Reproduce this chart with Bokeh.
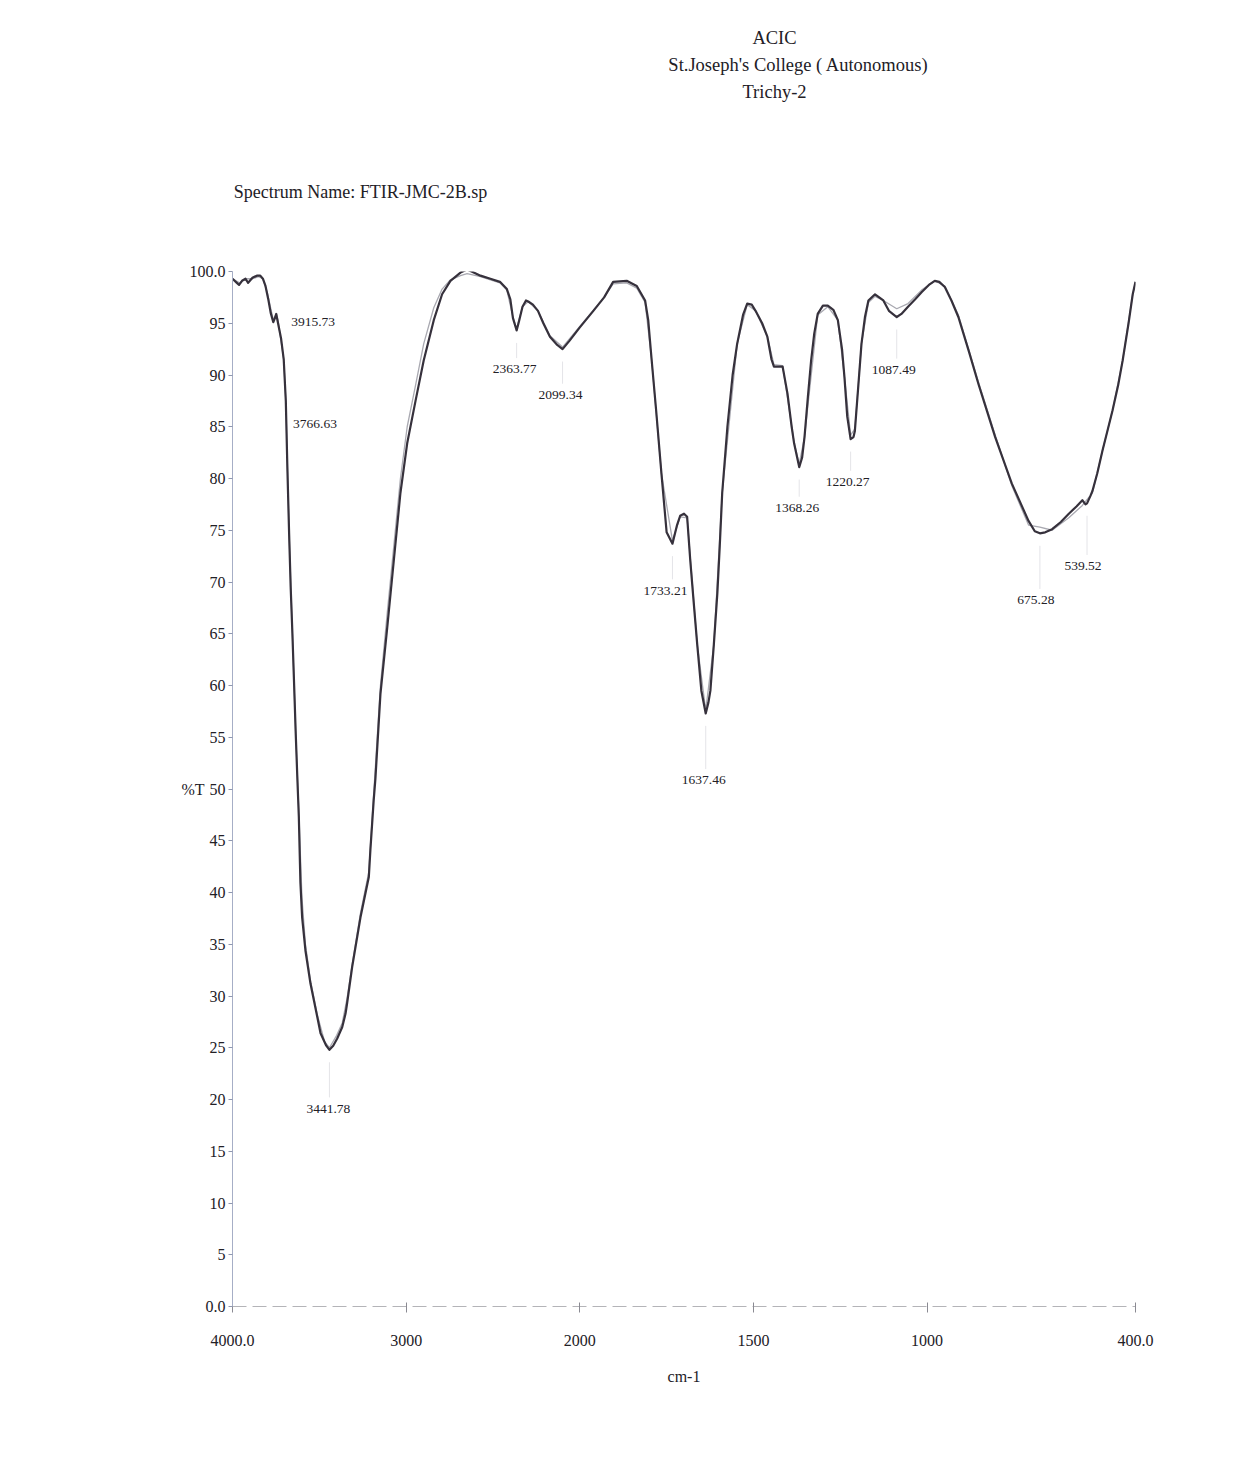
from bokeh.plotting import figure
from bokeh.models import Label, FixedTicker, Range1d, ColumnDataSource
from bokeh.layouts import column
from bokeh.core.properties import value
from bokeh.embed import file_html
from bokeh.resources import INLINE

# ---------------- data ----------------
wavenumber = [
    4000, 3975, 3962, 3945, 3925, 3910, 3900, 3885, 3860, 3840, 3825, 3810, 3795,
    3780, 3765, 3758, 3748, 3740, 3720, 3705, 3693, 3684, 3674, 3665, 3655, 3645,
    3636, 3626, 3618, 3609, 3599, 3580, 3551, 3512, 3493, 3460, 3441.78, 3420,
    3397, 3368, 3349, 3340, 3311, 3263, 3215, 3206, 3187, 3177, 3148, 3109, 3071,
    3033, 2994, 2946, 2899, 2841, 2793, 2745, 2687, 2649, 2572, 2515, 2460, 2420,
    2400, 2385, 2363.77, 2350, 2330, 2310, 2297, 2270, 2241, 2210, 2172, 2130,
    2099.34, 2060, 2000, 1961, 1930, 1904, 1865, 1836, 1812, 1803, 1793, 1780,
    1765, 1750, 1733.21, 1720, 1711, 1700, 1691, 1682, 1672, 1662, 1650, 1637.46,
    1630, 1624, 1614, 1604, 1597, 1590, 1575, 1560, 1547, 1530, 1518, 1505, 1494,
    1475, 1460, 1448, 1441, 1416, 1402, 1390, 1383, 1368.26, 1360, 1353, 1343,
    1334, 1325, 1315, 1300, 1286, 1270, 1257, 1245, 1238, 1230, 1220.27, 1212,
    1208, 1198, 1189, 1179, 1169, 1150, 1126, 1110, 1087.49, 1074, 1055, 1035,
    1016, 995, 978, 965, 949, 930, 910, 880, 852, 804, 756, 708, 690, 675.28,
    660, 640, 615, 592, 570, 553, 544, 539.52, 530, 524, 510, 495, 480, 466,
    450, 437, 420, 408, 400,
]
transmittance = [
    99.3, 98.9, 98.7, 99.1, 99.3, 98.9, 99.1, 99.4, 99.6, 99.6, 99.3, 98.6, 97.4,
    96.0, 95.1, 95.4, 95.9, 95.2, 93.5, 91.5, 87.5, 81.0, 74.7, 69.5, 65.0, 60.0,
    55.4, 50.8, 47.3, 41.0, 37.6, 34.4, 31.2, 28.0, 26.4, 25.2, 24.8, 25.2,
    25.9, 27.0, 28.3, 29.3, 32.8, 37.6, 41.5, 44.1, 48.9, 51.0, 59.2, 65.6, 72.1,
    78.6, 83.4, 87.5, 91.4, 95.3, 97.8, 99.1, 99.9, 100.2, 99.6, 99.3, 99.0, 98.3,
    97.3, 95.5, 94.3, 95.2, 96.6, 97.2, 97.1, 96.8, 96.2, 95.0, 93.7, 92.9,
    92.5, 93.3, 94.6, 96.2, 97.5, 99.0, 99.1, 98.6, 97.2, 95.3, 91.4, 86.5,
    80.5, 74.8, 73.7, 75.5, 76.4, 76.6, 76.3, 72.1, 68.0, 64.0, 59.5, 57.3,
    58.3, 59.5, 64.0, 68.9, 73.5, 78.6, 85.0, 90.0, 93.0, 95.8, 96.9, 96.8, 96.2,
    95.0, 93.7, 91.5, 90.8, 90.8, 88.2, 85.0, 83.4, 81.1, 82.0, 84.0, 88.0,
    91.4, 94.0, 95.9, 96.7, 96.7, 96.3, 95.3, 92.5, 89.8, 86.0, 83.8, 84.0,
    84.6, 89.0, 93.0, 95.6, 97.2, 97.8, 97.2, 96.2, 95.6, 95.9, 96.6, 97.3,
    98.0, 98.7, 99.1, 99.0, 98.5, 97.2, 95.6, 92.3, 89.1, 84.0, 79.5, 75.9, 74.9, 74.7,
    74.8, 75.1, 75.8, 76.6, 77.3, 77.9, 77.5, 77.6, 78.3, 78.8, 80.5, 82.7, 84.7, 86.6,
    89.0, 91.4, 95.0, 97.8, 99.0,
]

# faint second (overlaid) trace
ref_wavenumber = [
    4000, 3960, 3925, 3885, 3850, 3825, 3800, 3765, 3748, 3738, 3705, 3693, 3674,
    3655, 3636, 3618, 3600, 3580, 3551, 3512, 3470, 3441.78, 3400, 3368, 3340,
    3311, 3263, 3215, 3187, 3148, 3109, 3071, 3033, 2994, 2946, 2899, 2841, 2793,
    2745, 2687, 2649, 2572, 2515, 2460, 2420, 2385, 2363.77, 2330, 2297, 2241,
    2172, 2099.34, 2000, 1930, 1904, 1865, 1836, 1812, 1793, 1765, 1733.21, 1711,
    1691, 1662, 1637.46, 1614, 1590, 1547, 1518, 1494, 1460, 1441, 1416, 1383,
    1368.26, 1353, 1315, 1286, 1257, 1238, 1220.27, 1208, 1189, 1169, 1150, 1126,
    1087.49, 1055, 1016, 978, 949, 910, 852, 804, 756, 708, 675.28, 640, 592, 553,
    524, 495, 466, 437, 408, 400,
]
ref_transmittance = [
    99.3, 98.9, 99.3, 99.3, 99.5, 99.3, 98.0, 95.3, 95.9, 95.3, 91.5, 87.5, 74.7,
    65.0, 55.4, 47.8, 39.5, 35.0, 31.5, 28.2, 25.6, 25.0, 26.2, 27.4, 29.8,
    33.0, 38.0, 42.0, 49.5, 60.0, 67.0, 73.5, 80.0, 85.0, 89.0, 93.0, 96.5, 98.3,
    99.2, 99.6, 99.8, 99.5, 99.2, 98.9, 98.2, 95.6, 94.5, 96.6, 97.1, 96.2,
    93.8, 92.7, 94.7, 97.5, 98.8, 98.9, 98.4, 97.0, 91.4, 80.5, 74.0, 76.3,
    76.2, 64.0, 57.6, 64.0, 78.6, 93.0, 96.8, 96.2, 93.7, 91.0, 90.9, 83.5,
    81.4, 84.0, 95.8, 96.6, 95.3, 89.8, 84.2, 84.8, 93.0, 97.0, 97.6, 97.2,
    96.4, 96.9, 98.2, 99.1, 98.6, 95.8, 89.3, 84.2, 79.3, 75.5, 75.3, 75.0, 76.2, 77.4,
    78.6, 82.7, 86.6, 91.4, 97.8, 99.0,
]

peak_wavenumbers = [3915.73, 3766.63, 3441.78, 2363.77, 2099.34, 1733.21,
                    1637.46, 1368.26, 1220.27, 1087.49, 675.28, 539.52]
peak_transmittance = [99.0, 95.1, 24.8, 94.3, 92.5, 73.7, 57.3, 81.1, 83.8, 95.6, 74.7, 77.6]
peak_labels = ["3915.73", "3766.63", "3441.78", "2363.77", "2099.34", "1733.21",
               "1637.46", "1368.26", "1220.27", "1087.49", "675.28", "539.52"]

x_tick_values = [4000, 3000, 2000, 1500, 1000, 400]
x_tick_labels = ["4000.0", "3000", "2000", "1500", "1000", "400.0"]
y_tick_values = list(range(0, 101, 5))

header_lines = ["ACIC", "St.Joseph's College ( Autonomous)", "Trichy-2"]
spectrum_name = "Spectrum Name: FTIR-JMC-2B.sp"
x_title = "cm-1"
y_title = "%T"

# ---------------- layout / style ----------------
W = 1240
HEAD_H = 218                      # header strip (page y 0 .. 218)
MAIN_H = 1245                     # main plot (page y 218 .. 1463)
FL, FR = 232, 1135                # frame left/right inside both figures
FT, FB = 53, 1088                 # frame top/bottom inside main figure
SERIF = "Liberation Serif"
INK = "#222026"

# the instrument plots 4000-2000 at half the scale of 2000-400
def axis_pos(nu):
    return (4000.0 - nu) if nu >= 2000 else 2000.0 + 2.0 * (2000.0 - nu)

U_MAX = axis_pos(400)
px_per_u = (FR - FL) / U_MAX
px_per_t = (FB - FT) / 100.0

# ---- header strip (its frame is aligned with the main frame; units = page pixels) ----
head = figure(width=W, height=HEAD_H, output_backend="svg", toolbar_location=None,
              x_range=Range1d(FL, FR), y_range=Range1d(HEAD_H, 0),
              min_border_left=FL, min_border_right=W - FR,
              min_border_top=0, min_border_bottom=0)
head.axis.visible = False
head.grid.visible = False
head.outline_line_color = None
head.background_fill_color = "white"
head.border_fill_color = "white"
head.text(x=[774, 798, 774], y=[37, 64, 91], text=header_lines,
          text_align="center", text_baseline="middle", text_font=value(SERIF),
          text_font_size="18.5px", text_color=INK)
head.text(x=[360], y=[191], text=[spectrum_name],
          text_align="center", text_baseline="middle", text_font=value(SERIF),
          text_font_size="18px", text_color=INK)

# ---- main spectrum plot ----
p = figure(width=W, height=MAIN_H, output_backend="svg", toolbar_location=None,
           x_range=Range1d(0, U_MAX), y_range=Range1d(0, 100),
           min_border_left=FL, min_border_right=W - FR,
           min_border_top=FT, min_border_bottom=MAIN_H - FB)
p.outline_line_color = None
p.grid.visible = False
p.background_fill_color = "white"
p.border_fill_color = "white"

# x axis
xa = p.xaxis[0]
xa.ticker = FixedTicker(ticks=[axis_pos(v) for v in x_tick_values])
xa.major_label_overrides = {axis_pos(v): s for v, s in zip(x_tick_values, x_tick_labels)}
xa.axis_line_color = "#b4b4b8"
xa.axis_line_dash = "14 6"
xa.axis_line_width = 1
xa.major_tick_line_color = "#8a8a92"
xa.major_tick_in = 4
xa.major_tick_out = 6
xa.minor_tick_line_color = None
xa.major_label_standoff = 22
xa.major_label_text_font = SERIF
xa.major_label_text_font_size = "16px"
xa.major_label_text_color = INK
xa.axis_label = x_title
xa.axis_label_text_font = SERIF
xa.axis_label_text_font_size = "16px"
xa.axis_label_text_font_style = "normal"
xa.axis_label_text_color = INK
xa.axis_label_standoff = 19

# y axis
ya = p.yaxis[0]
ya.ticker = FixedTicker(ticks=y_tick_values)
ya.major_label_overrides = {100: "100.0", 0: "0.0"}
ya.axis_line_color = "#a6aec6"
ya.axis_line_width = 1
ya.major_tick_line_color = "#8f97b0"
ya.major_tick_in = 0
ya.major_tick_out = 4
ya.minor_tick_line_color = None
ya.major_label_standoff = 3
ya.major_label_text_font = SERIF
ya.major_label_text_font_size = "16px"
ya.major_label_text_color = INK
ya.axis_label = y_title
ya.axis_label_orientation = "horizontal"
ya.axis_label_text_font = SERIF
ya.axis_label_text_font_size = "16px"
ya.axis_label_text_font_style = "normal"
ya.axis_label_text_color = INK
ya.axis_label_standoff = -18

# spectra
ref_src = ColumnDataSource(dict(u=[axis_pos(v) for v in ref_wavenumber], t=ref_transmittance))
main_src = ColumnDataSource(dict(u=[axis_pos(v) for v in wavenumber], t=transmittance))
p.line("u", "t", source=ref_src, line_color="#a9a9b1", line_width=1.3)
p.line("u", "t", source=main_src, line_color="#36313c", line_width=2.2, line_join="round")

# peak labels: (dx, dy) screen offsets from the peak, dy downward
label_offsets = [(66, 40), (42, 102), (-1, 59), (-2, 39), (-2, 46), (-7, 47),
                 (-2, 67), (-2, 41), (-3, 43), (-3, 53), (-4, 67), (-4, 63)]
seg_x0, seg_y0, seg_y1 = [], [], []
for nu, t, txt, (dx, dy) in zip(peak_wavenumbers, peak_transmittance, peak_labels, label_offsets):
    u = axis_pos(nu)
    lu = u + dx / px_per_u
    lt = t - dy / px_per_t
    p.add_layout(Label(x=lu, y=lt, text=txt, text_align="center", text_baseline="middle",
                       text_font=SERIF, text_font_size="13.5px", text_color=INK))
    if abs(dx) < 10:
        seg_x0.append(u)
        seg_y0.append(t - 1.2)
        seg_y1.append(lt + 1.1)
p.segment(x0=seg_x0, y0=seg_y0, x1=seg_x0, y1=seg_y1, line_color="#e4e4e8", line_width=1)

layout = column(head, p, spacing=0)
open("out.html", "w").write(file_html(layout, INLINE))
